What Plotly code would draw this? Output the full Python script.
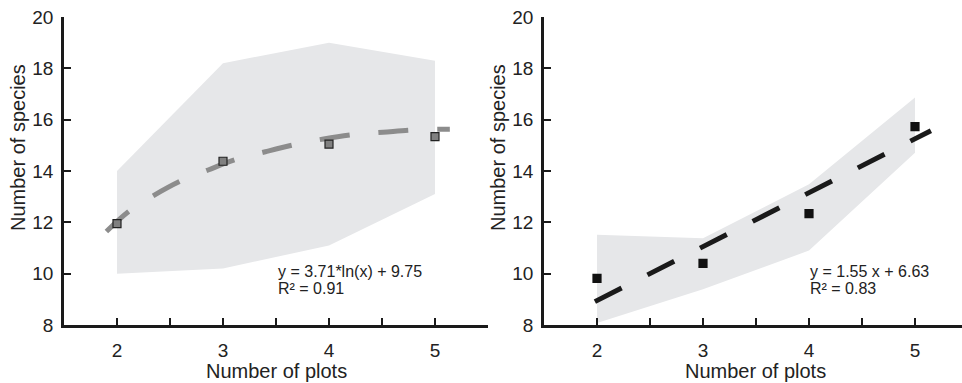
import plotly.graph_objects as go

# ---------------- data ----------------
plots = [2, 3, 4, 5]

# left panel (log fit)
left_mean = [11.95, 14.38, 15.05, 15.34]
left_upper = [14.0, 18.2, 19.0, 18.3]
left_lower = [10.0, 10.2, 11.1, 13.1]
left_fit_x = [1.9, 2.11, 2.34, 2.6, 2.86, 3.13, 3.4, 3.7, 3.95, 4.25, 4.51, 4.81, 5.14]
left_fit_y = [11.64, 12.42, 13.03, 13.61, 14.04, 14.46, 14.75, 15.05, 15.25, 15.43, 15.51, 15.6, 15.63]
left_eq = "y = 3.71*ln(x) + 9.75"
left_r2 = "R² = 0.91"

# right panel (linear fit)
right_mean = [9.82, 10.4, 12.34, 15.73]
right_upper = [11.52, 11.38, 13.48, 16.86]
right_lower = [8.08, 9.39, 10.9, 14.71]
right_fit_x = [1.98, 5.15]
right_fit_y = [8.91, 15.57]
right_eq = "y = 1.55 x + 6.63"
right_r2 = "R² = 0.83"

x_tickvals = [2, 2.5, 3, 3.5, 4, 4.5, 5, 5.5]
x_ticktext = ["2", "", "3", "", "4", "", "5", ""]
y_tickvals = [8, 10, 12, 14, 16, 18, 20]
x_title = "Number of plots"
y_title = "Number of species"

# ---------------- layout ----------------
W, H = 962, 383
FONT = "Liberation Sans, Arial, Helvetica, sans-serif"
BAND = "#e6e7e9"

fig = go.Figure()


def add_panel(xa, ya, upper, lower, mean, fx, fy, line_color, marker_color, marker_line, smooth):
    fig.add_trace(go.Scatter(
        x=plots + plots[::-1], y=upper + lower[::-1],
        fill="toself", fillcolor=BAND, line=dict(width=0), mode="lines",
        hoverinfo="skip", xaxis=xa, yaxis=ya, showlegend=False))
    fig.add_trace(go.Scatter(
        x=fx, y=fy, mode="lines",
        line=dict(color=line_color, width=5, dash="30px,29px",
                  shape="spline" if smooth else "linear"),
        xaxis=xa, yaxis=ya, showlegend=False))
    fig.add_trace(go.Scatter(
        x=plots, y=mean, mode="markers",
        marker=dict(symbol="square", size=8, color=marker_color,
                    line=dict(color=marker_line, width=1.2)),
        xaxis=xa, yaxis=ya, showlegend=False))


add_panel("x", "y", left_upper, left_lower, left_mean, left_fit_x, left_fit_y,
          "#8c8c8c", "#808080", "#222222", True)
add_panel("x2", "y2", right_upper, right_lower, right_mean, right_fit_x, right_fit_y,
          "#1a1a1a", "#111111", "#111111", False)

ydom = [58 / H, 366 / H]
axis_common = dict(
    showgrid=False, zeroline=False, showline=True, linecolor="#1a1a1a", linewidth=2.5,
    ticks="inside", ticklen=7, tickwidth=2, tickcolor="#1a1a1a", automargin=False,
    tickfont=dict(family=FONT, size=19, color="#222222"),
)

fig.update_layout(
    width=W, height=H,
    margin=dict(l=0, r=0, t=0, b=0),
    paper_bgcolor="white", plot_bgcolor="white",
    xaxis=dict(domain=[64 / W, 488 / W], range=[1.5, 5.5], anchor="y",
               tickvals=x_tickvals, ticktext=x_ticktext, ticklabelstandoff=6, **axis_common),
    yaxis=dict(domain=ydom, range=[8, 20], anchor="x", tickvals=y_tickvals,
               ticklabelstandoff=4, **axis_common),
    xaxis2=dict(domain=[544 / W, 1.0], range=[1.5, 1.5 + (W - 544) / 106], anchor="y2",
                tickvals=x_tickvals, ticktext=x_ticktext, ticklabelstandoff=6, **axis_common),
    yaxis2=dict(domain=ydom, range=[8, 20], anchor="x2", tickvals=y_tickvals,
                ticklabelstandoff=4, **axis_common),
)

ann_font = dict(family=FONT, size=20, color="#222222")
eq_font = dict(family=FONT, size=16, color="#222222")
anns = []
for x0 in (0, 480):
    anns.append(dict(text=y_title, x=(x0 + 18) / W, y=(H - 148) / H, xref="paper", yref="paper",
                     textangle=-90, showarrow=False, font=ann_font, xanchor="center", yanchor="middle"))
for xc in (276, 755):
    anns.append(dict(text=x_title, x=xc / W, y=(H - 371) / H, xref="paper", yref="paper",
                     showarrow=False, font=ann_font, xanchor="center", yanchor="middle"))
for x0, eq, r2 in ((276, left_eq, left_r2), (808, right_eq, right_r2)):
    anns.append(dict(text=eq, x=x0 / W, y=(H - 271.5) / H, xref="paper", yref="paper",
                     showarrow=False, font=eq_font, xanchor="left", yanchor="middle"))
    anns.append(dict(text=r2, x=x0 / W, y=(H - 288.5) / H, xref="paper", yref="paper",
                     showarrow=False, font=eq_font, xanchor="left", yanchor="middle"))
fig.update_layout(annotations=anns)

fig.write_html(
    "out.html",
    config={"displayModeBar": False},
    post_script="document.body.style.margin='0';document.body.style.overflow='hidden';",
)
